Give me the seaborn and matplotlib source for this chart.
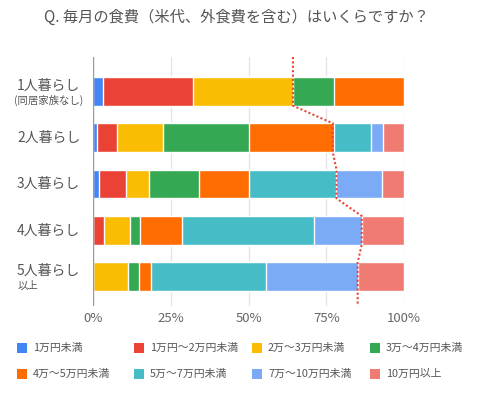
import numpy as np
import pandas as pd
import matplotlib
matplotlib.use("Agg")
import matplotlib.pyplot as plt
import matplotlib.transforms as mtransforms
from matplotlib.patches import Rectangle
import seaborn as sns

# households (rows) and spending bands (segments)
households = ["1人暮らし", "2人暮らし", "3人暮らし", "4人暮らし", "5人暮らし"]
sublabels = ["(同居家族なし)", "", "", "", "以上"]
bands = ["1万円未満", "1万円〜2万円未満", "2万〜3万円未満", "3万〜4万円未満",
         "4万〜5万円未満", "5万〜7万円未満", "7万〜10万円未満", "10万円以上"]
colors = ["#4285F4", "#EA4335", "#FBBC04", "#34A853",
          "#FF6D01", "#46BDC6", "#7BAAF7", "#F07B72"]

# share of each band (%) per household size
under_1 = [3.2, 1.3, 1.8, 0.0, 0.0]
from_1_to_2 = [29.0, 6.5, 8.9, 3.4, 0.0]
from_2_to_3 = [32.1, 14.6, 7.2, 8.4, 11.2]
from_3_to_4 = [13.2, 27.7, 16.1, 3.4, 3.6]
from_4_to_5 = [22.5, 27.4, 16.1, 13.5, 3.7]
from_5_to_7 = [0.0, 12.0, 28.0, 42.5, 37.0]
from_7_to_10 = [0.0, 3.9, 14.7, 15.2, 29.6]
over_10 = [0.0, 6.6, 7.2, 13.6, 14.9]

# red dotted guide line position (%) per row
guide_pct = [64.3, 77.1, 78.3, 86.4, 85.1]

shares = pd.DataFrame(
    [under_1, from_1_to_2, from_2_to_3, from_3_to_4,
     from_4_to_5, from_5_to_7, from_7_to_10, over_10],
    index=bands, columns=households).T
cum = shares.cumsum(axis=1)
cum = cum.div(cum.iloc[:, -1], axis=0) * 100

sns.set_theme(style="white")
plt.rcParams["font.family"] = ["Noto Sans CJK JP", "DejaVu Sans"]

W, H = 480, 395
fig = plt.figure(figsize=(W / 100, H / 100), dpi=100)
ax = fig.add_axes([93 / W, 1 - 306 / H, 311 / W, 249 / H])

bar_h = 0.62
# draw cumulative bars from the widest down, so each band shows as a segment
for band, col in reversed(list(zip(bands, colors))):
    df = pd.DataFrame({"household": households, "value": cum[band].values})
    sns.barplot(data=df, x="value", y="household", color=col, orient="h",
                width=bar_h, saturation=1, ax=ax, zorder=2)

# dotted guide line through the bars
ys, xs = [-0.74], [guide_pct[0]]
for i, p in enumerate(guide_pct):
    ys += [i - bar_h / 2, i + bar_h / 2]
    xs += [p, p]
ys.append(4.63)
xs.append(guide_pct[-1])
ax.plot(xs, ys, color="#EA4335", lw=1.5, ls=(0, (1, 1.1)), zorder=4)

ax.set_xlim(0, 100)
ax.set_ylim(4.63, -0.74)
ax.set_xticks([0, 25, 50, 75, 100])
ax.set_xticklabels(["0%", "25%", "50%", "75%", "100%"], color="#666666", fontsize=9.5)
ax.tick_params(axis="x", length=0, pad=4)
ax.set_yticks([])
ax.set_xlabel("")
ax.set_ylabel("")
for x in [25, 50, 75, 100]:
    ax.axvline(x, color="#e3e3e3", lw=0.9, zorder=1)
ax.axvline(0, color="#999999", lw=1.0, zorder=3)
for s in ax.spines.values():
    s.set_visible(False)

# row labels, left aligned
tr = mtransforms.blended_transform_factory(fig.transFigure, ax.transData)
px = 46.5  # pixels per row
for i, (name, sub) in enumerate(zip(households, sublabels)):
    if sub:
        ax.text(17 / W, i - 6 / px, name, transform=tr, ha="left", va="center",
                fontsize=10, color="#555555")
        ax.text((14 if i == 0 else 18) / W, i + 9.5 / px, sub, transform=tr,
                ha="left", va="center", fontsize=7.5, color="#555555")
    else:
        ax.text(17 / W, i, name, transform=tr, ha="left", va="center",
                fontsize=10, color="#555555")

fig.text(0.493, 0.957, "Q. 毎月の食費（米代、外食費を含む）はいくらですか？",
         ha="center", va="center", fontsize=11, color="#555555")

# legend: 2 rows x 4 columns, filled row by row
col_x = [17, 134, 252, 370]
row_y = [348, 374]
for k, (band, col) in enumerate(zip(bands, colors)):
    x0 = col_x[k % 4]
    y0 = row_y[k // 4]
    fig.add_artist(Rectangle((x0 / W, 1 - (y0 + 5) / H), 10 / W, 10 / H,
                             transform=fig.transFigure, facecolor=col,
                             edgecolor="none"))
    fig.text((x0 + 16) / W, 1 - y0 / H, band, ha="left", va="center",
             fontsize=7.8, color="#555555")

fig.savefig("out.png", dpi=100)
